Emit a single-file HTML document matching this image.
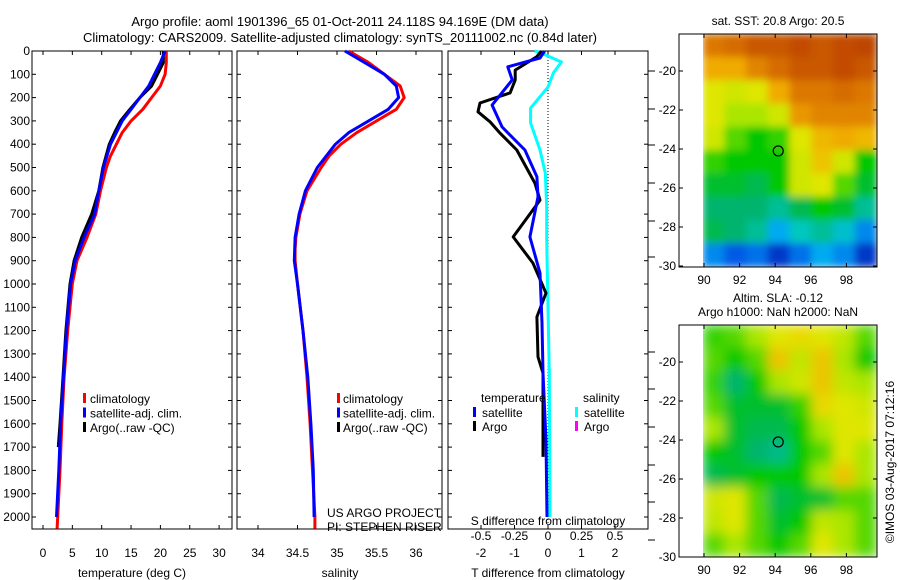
<!DOCTYPE html>
<html><head><meta charset="utf-8"><style>
body{margin:0;background:#fff;}
svg{display:block;font-family:"Liberation Sans",sans-serif;}
</style></head><body>
<svg id="fig" width="900" height="580" xmlns="http://www.w3.org/2000/svg"></svg>
<script>
// ---- data ----
const tClimDepth=[0,50,100,150,200,250,300,350,400,450,500,600,700,800,900,1000,1200,1400,1600,1800,2000,2050];
const tClimVal=[21,21,20.8,20,18.5,17,15,13.5,12.5,11.5,10.8,9.8,9,7.5,5.8,5,4.2,3.6,3.2,2.9,2.5,2.4];
const tSatDepth=[0,50,100,150,200,250,300,350,400,500,600,700,800,900,1000,1200,1400,1600,1800,2000];
const tSatVal=[20.8,20,19,18,16.5,15,13.5,12.5,11.5,10.3,9.5,8.8,7,5.5,4.7,4,3.5,3,2.7,2.3];
const tArgoDepth=[0,50,100,150,200,250,300,350,400,500,600,700,800,900,1000,1200,1400,1600,1700];
const tArgoVal=[20.5,20.5,19.5,18.5,16.5,14.8,13.2,12.2,11.3,10.2,9.5,8.3,6.6,5.3,4.6,3.9,3.4,2.9,2.6];
const sClimDepth=[0,50,100,150,200,250,300,350,400,450,500,600,700,800,850,900,1000,1200,1400,1600,1800,2000,2050];
const sClimVal=[35.15,35.4,35.6,35.8,35.85,35.75,35.5,35.25,35.05,34.9,34.8,34.62,34.53,34.48,34.47,34.47,34.5,34.57,34.62,34.66,34.69,34.72,34.72];
const sSatDepth=[0,50,100,150,200,250,300,350,400,500,600,700,800,900,1000,1200,1400,1600,1800,2000];
const sSatVal=[35.1,35.35,35.6,35.75,35.78,35.65,35.4,35.15,34.98,34.75,34.6,34.52,34.47,34.46,34.5,34.57,34.63,34.67,34.7,34.71];
const dTSatDepth=[0,30,68,124,232,326,425,540,626,798,953,1167,1382,1670,2000];
const dTSatVal=[-0.1,-0.24,-1.2,-1.07,-1.67,-1.37,-0.69,-0.33,-0.3,-0.54,-0.24,-0.18,-0.15,-0.06,-0.03];
const dTArgoDepth=[0,24,82,124,180,223,261,304,353,425,567,640,717,798,910,1039,1141,1313,1382,1742];
const dTArgoVal=[-0.2,-0.33,-0.98,-0.98,-1.13,-2.03,-2.09,-1.73,-1.43,-0.93,-0.39,-0.24,-0.63,-1.04,-0.45,-0.06,-0.33,-0.3,-0.15,-0.15];
const dSSatDepth=[0,4,47,94,155,245,309,425,524,670,811,1099,1382,2000];
const dSSatVal=[-0.1,-0.07,0.1,0.04,0,-0.13,-0.13,-0.06,-0.02,-0.01,-0.01,0,0.01,0.015];
const depthTicks=[0,100,200,300,400,500,600,700,800,900,1000,1100,1200,1300,1400,1500,1600,1700,1800,1900,2000];
const tTicks=[0,5,10,15,20,25,30];
const sTicks=[34,34.5,35,35.5,36];
const dTTicks=[-2,-1,0,1,2];
const dSTicks=[-0.5,-0.25,0,0.25,0.5];
const dSTickLabels=["-0.5","-0.25","0","0.25","0.5"];
const latTicks=[-20,-22,-24,-26,-28,-30];
const lonTicks=[90,92,94,96,98];
const sstGrid=[
[0.8,0.82,0.85,0.85,0.87,0.85,0.87,0.88],
[0.72,0.72,0.78,0.82,0.85,0.85,0.87,0.85],
[0.62,0.6,0.62,0.72,0.8,0.8,0.82,0.8],
[0.62,0.55,0.55,0.6,0.75,0.78,0.78,0.78],
[0.6,0.5,0.45,0.48,0.62,0.7,0.72,0.7],
[0.48,0.45,0.45,0.45,0.6,0.68,0.6,0.45],
[0.42,0.42,0.4,0.45,0.6,0.62,0.5,0.42],
[0.38,0.38,0.38,0.35,0.4,0.45,0.42,0.35],
[0.4,0.38,0.35,0.25,0.32,0.35,0.3,0.22],
[0.22,0.18,0.2,0.15,0.2,0.25,0.22,0.15]];
const slaGrid=[
[0.48,0.5,0.55,0.62,0.65,0.62,0.58,0.5],
[0.5,0.45,0.5,0.68,0.58,0.68,0.55,0.45],
[0.48,0.38,0.45,0.55,0.6,0.68,0.58,0.55],
[0.5,0.42,0.42,0.42,0.48,0.65,0.62,0.6],
[0.55,0.42,0.4,0.4,0.45,0.55,0.62,0.62],
[0.45,0.42,0.38,0.36,0.45,0.5,0.62,0.55],
[0.4,0.42,0.45,0.45,0.45,0.55,0.68,0.55],
[0.6,0.62,0.5,0.4,0.42,0.42,0.5,0.5],
[0.58,0.62,0.5,0.42,0.45,0.58,0.55,0.5],
[0.5,0.55,0.5,0.45,0.5,0.62,0.55,0.5]];
const argoLon=94.17, argoLat=-24.1;

// ---- helpers ----
const NS="http://www.w3.org/2000/svg";
const svg=document.getElementById('fig');
function el(tag,attrs,parent){const e=document.createElementNS(NS,tag);for(const k in attrs)e.setAttribute(k,attrs[k]);(parent||svg).appendChild(e);return e;}
function txt(s,x,y,anchor,size,parent){const t=el('text',{x:x,y:y,'text-anchor':anchor||'start','font-size':size||12},parent);t.textContent=s;return t;}
const Y0=51, Y1=529;
const yD=d=>Y0+d*0.233;
const xT=v=>43+v*5.87;
const xS=v=>258+(v-34)*79;
const xDT=v=>548+v*33.5;
const xDS=v=>548+v*134;
function line(depths,vals,xf,color,name,parent){
  const pts=depths.map((d,i)=>xf(vals[i]).toFixed(1)+','+yD(d).toFixed(1)).join(' ');
  const p=el('polyline',{points:pts,fill:'none',stroke:color,'stroke-width':3,'stroke-linejoin':'round'},parent);
  
  
  return p;
}
function panel(x0,x1,name){
  const g=el('g',{});
  
  
  el('rect',{x:x0,y:Y0,width:x1-x0,height:Y1-Y0,fill:'none',stroke:'#000','stroke-width':1},g);
  depthTicks.forEach(d=>{el('line',{x1:x0,x2:x0+4,y1:yD(d),y2:yD(d),stroke:'#000'},g);el('line',{x1:x1,x2:x1-4,y1:yD(d),y2:yD(d),stroke:'#000'},g);});
  return g;
}
const t1=txt('Argo profile: aoml 1901396_65 01-Oct-2011 24.118S 94.169E (DM data)',340,26,'middle',13);

const t2=txt('Climatology: CARS2009. Satellite-adjusted climatology: synTS_20111002.nc (0.84d later)',340,42,'middle',13);


// panel 1
const p1=panel(32,232,'temperature-panel');
depthTicks.forEach(d=>{txt(String(d),30,yD(d)+4,'end',12,p1);});
tTicks.forEach(v=>{el('line',{x1:xT(v),x2:xT(v),y1:Y1,y2:Y1-4,stroke:'#000'},p1);el('line',{x1:xT(v),x2:xT(v),y1:Y0,y2:Y0+4,stroke:'#000'},p1);txt(String(v),xT(v),557,'middle',12,p1);});
txt('temperature (deg C)',132,577,'middle',12,p1);
line(tClimDepth,tClimVal,xT,'#f00','temp-climatology-line',p1);
line(tArgoDepth,tArgoVal,xT,'#000','temp-argo-line',p1);
line(tSatDepth,tSatVal,xT,'#00f','temp-satellite-line',p1);
[['climatology','#f00'],['satellite-adj. clim.','#00f'],['Argo(..raw -QC)','#000']].forEach((l,i)=>{
  const g=el('g',{},p1);
  el('rect',{x:83,y:393+i*14.5,width:3,height:10,fill:l[1]},g);txt(l[0],90,403+i*14.5,'start',12,g);});

// panel 2
const p2=panel(237,442,'salinity-panel');
sTicks.forEach(v=>{el('line',{x1:xS(v),x2:xS(v),y1:Y1,y2:Y1-4,stroke:'#000'},p2);el('line',{x1:xS(v),x2:xS(v),y1:Y0,y2:Y0+4,stroke:'#000'},p2);txt(String(v),xS(v),557,'middle',12,p2);});
txt('salinity',340,577,'middle',12,p2);
line(sClimDepth,sClimVal,xS,'#f00','sal-climatology-line',p2);
line(sSatDepth,sSatVal,xS,'#00f','sal-satellite-line',p2);
[['climatology','#f00'],['satellite-adj. clim.','#00f'],['Argo(..raw -QC)','#000']].forEach((l,i)=>{
  const g=el('g',{},p2);
  el('rect',{x:337,y:393+i*14.5,width:3,height:10,fill:l[1]},g);txt(l[0],343,403+i*14.5,'start',12,g);});
txt('US ARGO PROJECT',327,517,'start',12,p2);
txt('PI: STEPHEN RISER',327,531,'start',12,p2);

// panel 3
const p3=panel(448,648,'difference-panel');
el('line',{x1:548,x2:548,y1:Y0,y2:Y1,stroke:'#000','stroke-dasharray':'1,2'},p3);
dTTicks.forEach(v=>{el('line',{x1:xDT(v),x2:xDT(v),y1:Y1,y2:Y1-4,stroke:'#000'},p3);el('line',{x1:xDT(v),x2:xDT(v),y1:Y0,y2:Y0+4,stroke:'#000'},p3);txt(String(v),xDT(v),557,'middle',12,p3);});
dSTicks.forEach((v,i)=>txt(dSTickLabels[i],xDS(v),540,'middle',12,p3));
txt('S difference from climatology',548,525,'middle',12,p3);
txt('T difference from climatology',548,577,'middle',12,p3);
[71,109,145,183,221,257,352,389,427,465,502,540].forEach(y=>el('line',{x1:648,x2:655,y1:y,y2:y,stroke:'#000'},p3));
line(dSSatDepth,dSSatVal,xDS,'#0ff','s-diff-satellite-line',p3);
line(dTArgoDepth,dTArgoVal,xDT,'#000','t-diff-argo-line',p3);
line(dTSatDepth,dTSatVal,xDT,'#00f','t-diff-satellite-line',p3);
txt('temperature',481,402,'start',12,p3);txt('salinity',583,402,'start',12,p3);
[['satellite','#00f',473],['Argo','#000',473],['satellite','#0ff',575],['Argo','#f0f',575]].forEach((l,i)=>{
  const g=el('g',{},p3);
  const r=i%2;el('rect',{x:l[2],y:407+r*14,width:3,height:10,fill:l[1]},g);txt(l[0],l[2]+9,417+r*14,'start',12,g);});

// maps
const cmapStops=[[0.1,0,0,150],[0.18,0,90,230],[0.25,0,170,240],[0.32,0,200,190],[0.38,0,180,110],[0.45,0,200,0],[0.55,170,230,0],[0.63,230,230,0],[0.72,240,170,0],[0.8,220,120,0],[0.88,190,70,0]];
function cmap(v){
  if(v<=cmapStops[0][0]) return `rgb(${cmapStops[0].slice(1).join(',')})`;
  for(let i=1;i<cmapStops.length;i++){const a=cmapStops[i-1],b=cmapStops[i];
    if(v<=b[0]){const f=(v-a[0])/(b[0]-a[0]);return `rgb(${[1,2,3].map(k=>Math.round(a[k]+(b[k]-a[k])*f)).join(',')})`;}}
  const l=cmapStops[cmapStops.length-1];return `rgb(${l.slice(1).join(',')})`;
}
el('defs',{}).innerHTML='<filter id="bl1" x="0" y="0" width="1" height="1"><feGaussianBlur stdDeviation="4"/></filter><filter id="bl2" x="0" y="0" width="1" height="1"><feGaussianBlur stdDeviation="6"/></filter><clipPath id="c1"><rect x="703" y="34" width="174" height="233"/></clipPath><clipPath id="c2"><rect x="703" y="325" width="174" height="232"/></clipPath>';
function map(top,bot,grid,name,clip,blur,title){
  const g=el('g',{});
  const xL=v=>704+(v-90)*17.8;
  const yL=v=>(top+37)+(-20-v)*19.5;
  const img=el('g',{'clip-path':'url(#'+clip+')'},g);
  const inner=el('g',{filter:'url(#'+blur+')'},img);
  const rows=grid.length, cols=grid[0].length, w=174/cols, h=(bot-top)/rows;
  grid.forEach((row,r)=>row.forEach((v,c)=>{el('rect',{x:703+c*w-0.5,y:top+r*h-0.5,width:w+1,height:h+1,fill:cmap(v)},inner);}));
  el('rect',{x:679,y:top,width:198,height:bot-top,fill:'none',stroke:'#000'},g);
  latTicks.forEach(v=>{el('line',{x1:679,x2:683,y1:yL(v),y2:yL(v),stroke:'#000'},g);el('line',{x1:877,x2:873,y1:yL(v),y2:yL(v),stroke:'#000'},g);txt(String(v),676,yL(v)+4,'end',12,g);});
  lonTicks.forEach(v=>{el('line',{x1:xL(v),x2:xL(v),y1:bot,y2:bot-4,stroke:'#000'},g);el('line',{x1:xL(v),x2:xL(v),y1:top,y2:top+4,stroke:'#000'},g);txt(String(v),xL(v),bot+17,'middle',12,g);});
  const m=el('circle',{cx:xL(argoLon),cy:yL(argoLat),r:5,fill:'none',stroke:'#000','stroke-width':1.2},g);
  
  title.forEach((s,i)=>txt(s,778,top-9-(title.length-1-i)*14,'middle',12,g));
}
map(34,267,sstGrid,'sst-map','c1','bl1',['sat. SST: 20.8 Argo: 20.5']);
map(325,557,slaGrid,'sla-map','c2','bl2',['Altim. SLA: -0.12','Argo h1000: NaN h2000: NaN']);
const cp=txt('©IMOS 03-Aug-2017 07:12:16',0,0,'middle',12);
cp.setAttribute('transform','translate(894,462) rotate(-90)');

</script>
</body></html>
